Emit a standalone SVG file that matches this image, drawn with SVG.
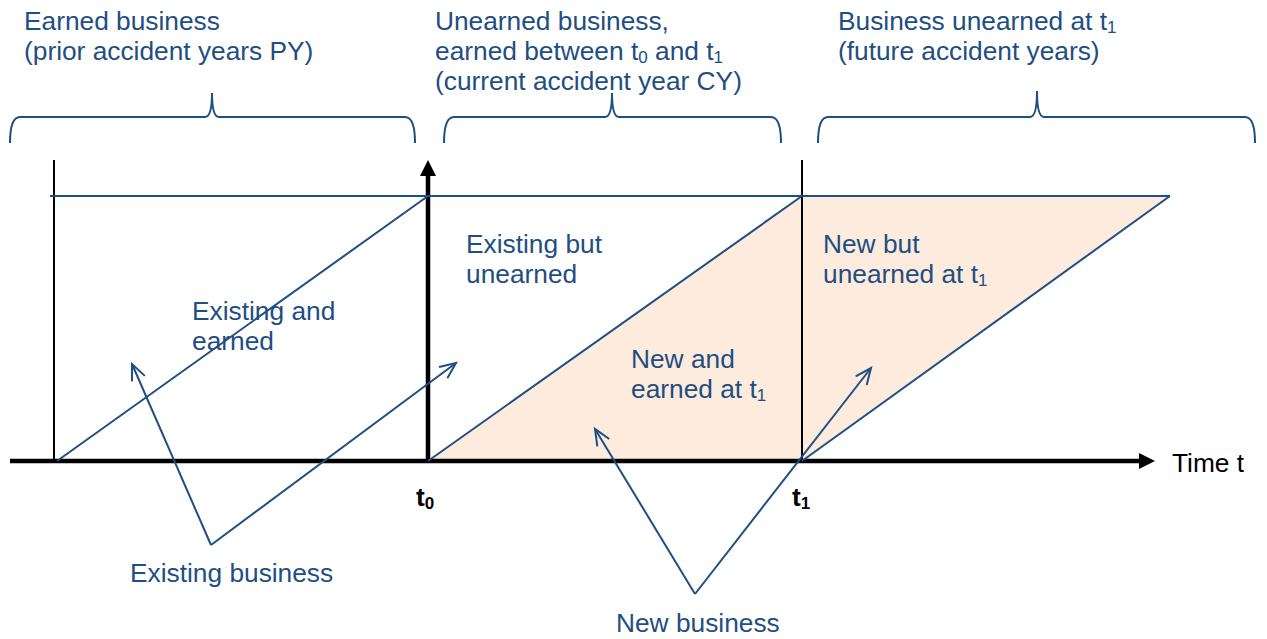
<svg xmlns="http://www.w3.org/2000/svg" width="1267" height="639" viewBox="0 0 1267 639">
<style>
text{font-family:"Liberation Sans",Arial,sans-serif;font-size:26.3px;fill:#1F4E82}
.blk{fill:#000}
.b{font-weight:bold}
.sub{font-size:17px}
.bl{stroke:#1F4E82;stroke-width:2;fill:none}
.thin{stroke:#000;stroke-width:2;fill:none}
.thick{stroke:#000;stroke-width:4.5;fill:none}
.brace{stroke:#1F4E82;stroke-width:2;fill:none}
</style>
<defs>
<marker id="open" markerUnits="userSpaceOnUse" markerWidth="20" markerHeight="20" refX="17" refY="8" orient="auto">
<path d="M1,1 L17,8 L1,15" fill="none" stroke="#1F4E82" stroke-width="2"/>
</marker>
<marker id="solid" markerUnits="userSpaceOnUse" markerWidth="20" markerHeight="20" refX="16" refY="8" orient="auto">
<path d="M0,0 L16,8 L0,16 Z" fill="#000"/>
</marker>
</defs>
<rect width="1267" height="639" fill="#fff"/>
<g id="shading">
<polygon points="428,461 802,196 1170,196 802,461" fill="#FDEBDD"/>
</g>
<g id="axes">
<line class="thin" x1="54" y1="160" x2="54" y2="461"/>
<line class="thin" x1="802" y1="160" x2="802" y2="461"/>
<line class="thick" x1="10" y1="461" x2="1148" y2="461"/>
<line class="thick" x1="428" y1="461" x2="428" y2="168"/>
<line x1="1140" y1="461" x2="1155" y2="461" stroke="none" marker-end="url(#solid)"/>
<line x1="428" y1="176" x2="428" y2="160" stroke="none" marker-end="url(#solid)"/>
<line class="bl" x1="50" y1="196" x2="1170" y2="196"/>
<line class="bl" x1="57" y1="461" x2="428" y2="196"/>
<line class="bl" x1="428" y1="461" x2="802" y2="196"/>
<line class="bl" x1="802" y1="461" x2="1170" y2="196"/>
</g>
<g id="braces">
<path class="brace" d="M10,143 Q10,117 20,117 L205,117 Q212,117 212,93 Q212,117 219,117 L405,117 Q415,117 415,143"/>
<path class="brace" d="M444,143 Q444,117 454,117 L605,117 Q612,117 612,93 Q612,117 619,117 L771,117 Q781,117 781,143"/>
<path class="brace" d="M818,143 Q818,117 828,117 L1030,117 Q1037,117 1037,91 Q1037,117 1044,117 L1245,117 Q1255,117 1255,143"/>
</g>
<g id="header-py">
<text x="24" y="30">Earned business</text>
<text x="24" y="60">(prior accident years PY)</text>
</g>
<g id="header-cy">
<text x="435" y="30">Unearned business,</text>
<text x="435" y="60">earned between t<tspan class="sub" dy="3">0</tspan><tspan dy="-3"> and t</tspan><tspan class="sub" dy="3">1</tspan></text>
<text x="435" y="90">(current accident year CY)</text>
</g>
<g id="header-future">
<text x="838" y="30">Business unearned at t<tspan class="sub" dy="3">1</tspan></text>
<text x="838" y="60">(future accident years)</text>
</g>
<g id="existing-earned">
<text x="192" y="320">Existing and</text>
<text x="192" y="350">earned</text>
</g>
<g id="existing-unearned">
<text x="466" y="253">Existing but</text>
<text x="466" y="283">unearned</text>
</g>
<g id="new-earned">
<text x="631" y="368">New and</text>
<text x="631" y="398">earned at t<tspan class="sub" dy="3">1</tspan></text>
</g>
<g id="new-unearned">
<text x="823" y="253">New but</text>
<text x="823" y="283">unearned at t<tspan class="sub" dy="3">1</tspan></text>
</g>
<g id="axis-labels">
<text class="blk b" x="416" y="506">t<tspan class="sub" dy="3">0</tspan></text>
<text class="blk b" x="792" y="506">t<tspan class="sub" dy="3">1</tspan></text>
<text class="blk" x="1172" y="472">Time t</text>
</g>
<g id="existing-business">
<text x="130" y="582">Existing business</text>
</g>
<g id="new-business">
<text x="616" y="632">New business</text>
</g>
<g id="connectors">
<line class="bl" x1="211" y1="545" x2="132" y2="364" marker-end="url(#open)"/>
<line class="bl" x1="211" y1="545" x2="456" y2="363" marker-end="url(#open)"/>
<line class="bl" x1="695" y1="594" x2="595" y2="429" marker-end="url(#open)"/>
<line class="bl" x1="695" y1="594" x2="871" y2="368" marker-end="url(#open)"/>
</g>
</svg>
